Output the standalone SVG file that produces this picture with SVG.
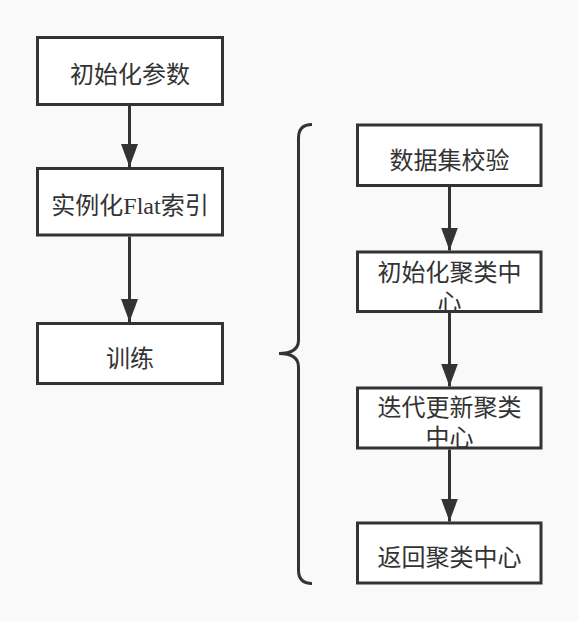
<svg xmlns="http://www.w3.org/2000/svg" width="578" height="621" viewBox="0 0 578 621">
<style>
.box{fill:#ffffff;stroke:#333333;stroke-width:3}
.t{font-family:"Liberation Serif","Noto Sans CJK SC",serif;font-size:24px;fill:#333333;text-anchor:middle}
.c{stroke:#333333;stroke-width:3;fill:none}
</style>
<defs>
<marker id="ah" markerUnits="userSpaceOnUse" markerWidth="24" markerHeight="18" refX="23" refY="8.5" orient="auto">
<path d="M0,0 L23,8.5 L0,17 z" fill="#333333"/>
</marker>
</defs>
<rect width="578" height="621" fill="#f9f9f9"/>
<g id="connectors">
<line class="c" x1="129.5" y1="106" x2="129.5" y2="167" marker-end="url(#ah)"/>
<line class="c" x1="129.5" y1="236.5" x2="129.5" y2="322" marker-end="url(#ah)"/>
<line class="c" x1="449.5" y1="187" x2="449.5" y2="250.5" marker-end="url(#ah)"/>
<line class="c" x1="449.5" y1="313" x2="449.5" y2="386.5" marker-end="url(#ah)"/>
<line class="c" x1="449.5" y1="449.5" x2="449.5" y2="521.5" marker-end="url(#ah)"/>
</g>
<g id="brace">
<path class="c" d="M312,124.5 Q298.5,124.5 298.5,138 L298.5,340 Q298.5,353.5 279,353.5 Q298.5,353.5 298.5,367 L298.5,570 Q298.5,583.5 312,583.5"/>
</g>
<g id="n1">
<rect class="box" x="37.5" y="37.5" width="185" height="67"/>
<text class="t" x="130" y="83">初始化参数</text>
</g>
<g id="n2">
<rect class="box" x="37.5" y="168.5" width="185" height="66.5"/>
<text class="t" x="130" y="214">实例化Flat索引</text>
</g>
<g id="n3">
<rect class="box" x="37.5" y="323.5" width="185" height="60"/>
<text class="t" x="130" y="366.5">训练</text>
</g>
<g id="r1">
<rect class="box" x="357.5" y="125" width="183.5" height="60.5"/>
<text class="t" x="449.5" y="168.5">数据集校验</text>
</g>
<g id="r2">
<rect class="box" x="357.5" y="252" width="183.5" height="59.5"/>
<text class="t" x="449.5" y="281">初始化聚类中</text>
<text class="t" x="449.5" y="311">心</text>
</g>
<g id="r3">
<rect class="box" x="357.5" y="388" width="183.5" height="60"/>
<text class="t" x="449.5" y="416">迭代更新聚类</text>
<text class="t" x="449.5" y="446">中心</text>
</g>
<g id="r4">
<rect class="box" x="357.5" y="523" width="183.5" height="60"/>
<text class="t" x="449.5" y="566">返回聚类中心</text>
</g>
</svg>
